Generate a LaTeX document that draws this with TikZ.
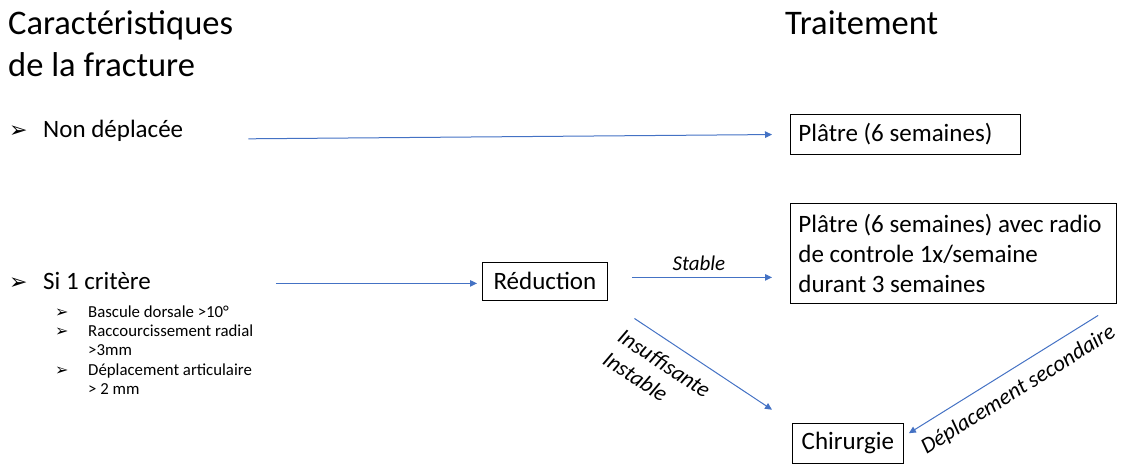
\documentclass[tikz,border=0pt]{standalone}
\usepackage{fontspec}
\setmainfont{Carlito}
\newfontfamily\bulletfont{DejaVu Sans}
\usetikzlibrary{arrows.meta}
\definecolor{officeblue}{HTML}{4472C4}
\newcommand{\headfont}{\fontsize{34.5}{42}\selectfont}
\newcommand{\bodyfont}{\fontsize{25}{30}\selectfont}
\newcommand{\subfont}{\fontsize{16.8}{19.5}\selectfont}
\newcommand{\mainbullet}{{\bulletfont\fontsize{22}{22}\selectfont ➢}}
\newcommand{\subbullet}{{\bulletfont\fontsize{16}{16}\selectfont ➢}}

\begin{document}
\begin{tikzpicture}[x=1pt,y=-1pt,
    txt/.style={inner sep=0pt,anchor=base west},
    box/.style={draw,line width=0.8pt,anchor=north west,inner xsep=8pt,inner ysep=0pt,font=\bodyfont},
    flow/.style={draw=officeblue,line width=1pt,-{Triangle[length=7pt,width=6.5pt]}},
    lab/.style={font=\itshape\fontsize{22.5}{27}\selectfont}]
\useasboundingbox (0,0) rectangle (1121,464);
% headings
\node[txt,font=\headfont] at (8,34) (head1) {Caractéristiques};
\node[txt,font=\headfont] at (8,76) (head2) {de la fracture};
\node[txt,font=\headfont] at (785,34) (head3) {Traitement};
% left column
\node[txt] at (9,137) (bul1) {\mainbullet};
\node[txt,font=\bodyfont] at (43,137) (nondep) {Non déplacée};
\node[txt] at (9,289) (bul2) {\mainbullet};
\node[txt,font=\bodyfont] at (43,289) (crit) {Si 1 critère};
\node[txt] at (55,317) (sbul1) {\subbullet};
\node[txt,font=\subfont] at (88,317) (crit1) {Bascule dorsale >10°};
\node[txt] at (55,336) (sbul2) {\subbullet};
\node[txt,font=\subfont] at (88,336) (crit2) {Raccourcissement radial};
\node[txt,font=\subfont] at (88,355) (crit2b) {>3mm};
\node[txt] at (55,375) (sbul3) {\subbullet};
\node[txt,font=\subfont] at (88,375) (crit3) {Déplacement articulaire};
\node[txt,font=\subfont] at (88,394) (crit3b) {> 2 mm};
% treatment boxes
\node[box,minimum width=230pt,minimum height=40pt,text width=214pt,align=flush left] at (790,114) (cast) {Plâtre (6 semaines)};
\node[box,minimum width=326pt,minimum height=100pt,text width=310pt,align=flush left] at (790,203) (castxr) {Plâtre (6 semaines) avec radio\\de controle 1x/semaine\\durant 3 semaines};
\node[box,minimum width=125pt,minimum height=38pt] at (482,262) (reduc) {Réduction};
\node[box,minimum width=111pt,minimum height=40pt] at (792,423) (surg) {Chirurgie};
% arrows
\draw[flow,shorten <=65pt,shorten >=18pt] ([yshift=-9pt]nondep.east) -- (cast.west);
\draw[flow,shorten <=125pt,shorten >=5pt] ([yshift=-2pt]crit.east |- reduc.west) -- ([yshift=-2pt]reduc.west);
\draw[flow,shorten <=24pt,shorten >=18pt] ([yshift=4pt]reduc.east) -- ([yshift=4pt]castxr.west |- reduc.east)
    node[lab,midway,above=3pt,font=\itshape\fontsize{21}{25}\selectfont] {Stable};
\draw[flow,shorten <=32pt,shorten >=24pt] (reduc.south east) -- (surg.north west)
    node[lab,sloped,below=9pt,pos=0.37,align=flush left] {Insuffisante\\Instable};
\draw[flow,shorten <=22pt,shorten >=6pt] (castxr.south east) -- ([yshift=7pt]surg.east)
    node[lab,sloped,below=8pt,pos=0.515] {Déplacement secondaire};
\end{tikzpicture}
\end{document}
